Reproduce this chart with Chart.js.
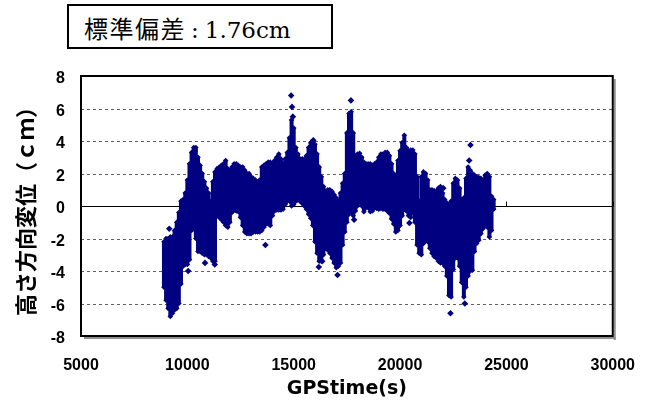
<!DOCTYPE html>
<html>
<head>
<meta charset="utf-8">
<script src="https://cdn.jsdelivr.net/npm/chart.js@4/dist/chart.umd.min.js"></script>
<style>
  html, body { margin: 0; padding: 0; background: #fff; }
  #wrap { position: relative; width: 655px; height: 407px; }
  #sd {
    position: absolute; left: 67px; top: 4px; width: 266px; height: 45px;
    box-sizing: border-box; border: 2px solid #000; background: #fff;
    padding: 4px 0 0 15px; line-height: 36px; white-space: nowrap;
    font-family: "DejaVu Serif", "Noto Sans CJK JP", serif; font-size: 23px; color: #000;
  }
  #sd .jp { font-family: "Noto Sans CJK JP", sans-serif; font-size: 24px; letter-spacing: 1.5px; }
  #sd .colon { padding: 0 6px 0 5px; }
</style>
</head>
<body>
<div id="wrap">
  <canvas id="c" width="655" height="407"></canvas>
  <div id="sd"><span class="jp">標準偏差</span><span class="colon">:</span>1.76cm</div>
</div>
<script>
// GPS time (s) of each sampled column of the height record
const times = [
  8900, 9000, 9100, 9200, 9300, 9400, 9500, 9600, 9700, 9800, 9900,
  10000, 10100, 10200, 10300, 10400, 10500, 10600, 10700, 10800, 10900,
  11000, 11100, 11200, 11300, 11400, 11500, 11600, 11700, 11800, 11900,
  12000, 12100, 12200, 12300, 12400, 12500, 12600, 12700, 12800, 12900,
  13000, 13100, 13200, 13300, 13400, 13500, 13600, 13700, 13800, 13900,
  14000, 14100, 14200, 14300, 14400, 14500, 14600, 14700, 14800, 14900,
  15000, 15100, 15200, 15300, 15400, 15500, 15600, 15700, 15800, 15900,
  16000, 16100, 16200, 16300, 16400, 16500, 16600, 16700, 16800, 16900,
  17000, 17100, 17200, 17300, 17400, 17500, 17600, 17700, 17800, 17900,
  18000, 18100, 18200, 18300, 18400, 18500, 18600, 18700, 18800, 18900,
  19000, 19100, 19200, 19300, 19400, 19500, 19600, 19700, 19800, 19900,
  20000, 20100, 20200, 20300, 20400, 20500, 20600, 20700, 20800, 20900,
  21000, 21100, 21200, 21300, 21400, 21500, 21600, 21700, 21800, 21900,
  22000, 22100, 22200, 22300, 22400, 22500, 22600, 22700, 22800, 22900,
  23000, 23100, 23200, 23300, 23400, 23500, 23600, 23700, 23800, 23900,
  24000, 24100, 24200, 24300, 24400
];

// Highest vertical displacement (cm) in each column
const highs = [
  -2.2, -2.0, -2.0, -1.9, -1.9, -1.5, -1.0, -0.4, 0.3, 0.4, 0.8,
  1.6, 2.6, 3.3, 3.6, 3.6, 3.0, 2.5, 2.0, 1.5, 1.1,
  0.8, 0.3, 1.5, 2.1, 2.3, 2.4, 2.5, 2.6, 2.8, 2.3,
  2.2, 2.4, 2.6, 2.6, 2.5, 2.4, 2.4, 2.2, 2.0, 2.0,
  1.8, 1.7, 1.6, 1.4, 1.6, 2.4, 2.5, 2.6, 2.7, 2.7,
  2.6, 2.8, 3.0, 3.2, 2.9, 2.6, 2.9, 3.3, 4.2, 5.3,
  4.8, 3.6, 3.2, 2.9, 2.9, 2.9, 3.1, 3.6, 3.9, 4.0,
  3.8, 3.2, 2.4, 1.8, 1.2, 0.9, 1.0, 1.0, 0.9, 0.7,
  0.5, 0.3, 0.8, 1.4, 2.0, 4.5, 5.7, 5.8, 4.5, 3.1,
  3.2, 3.25, 3.0, 2.7, 2.6, 2.6, 2.6, 2.5, 2.6, 2.7,
  3.0, 3.2, 3.2, 3.3, 3.3, 3.1, 2.6, 2.0, 1.8, 2.8,
  3.4, 3.9, 4.35, 3.6, 3.4, 3.45, 3.45, 3.2, 1.8, 0.3,
  1.8, 2.1, 2.0, 1.6, 1.0, 1.0, 0.95, 0.9, 1.1, 1.2,
  0.8, 0.4, 0.2, 0.0, 0.3, 1.4, 1.7, 1.6, 1.1, 0.4,
  0.5, 1.7, 2.4, 2.2, 2.0, 1.9, 1.8, 1.75, 1.7, 1.6,
  1.9, 2.0, 1.8, 0.6, 0.4
];

// Lowest vertical displacement (cm) in each column
const lows = [
  -5.0, -5.8, -6.3, -6.8, -6.6, -6.4, -6.3, -6.0, -4.8, -3.7, -3.6,
  -3.6, -3.3, -1.5, -1.4, -2.0, -2.8, -2.8, -2.9, -3.0, -3.0,
  -3.1, -3.2, -3.4, -3.4, -0.6, -0.7, -0.85, -1.0, -1.2, -1.3,
  -1.0, -0.4, -0.25, -0.3, -0.35, -0.7, -1.2, -1.6, -1.7, -1.7,
  -1.7, -1.6, -1.6, -1.6, -1.6, -1.5, -1.3, -1.1, -1.1, -1.2,
  -0.6, -0.3, -0.25, -0.25, -0.25, -0.2, 0.1, 0.3, 0.3, 0.0,
  0.1, 0.3, 0.35, 0.3, 0.15, 0.0, -0.2, -0.5, -0.75, -1.2,
  -2.2, -2.9, -3.4, -3.4, -3.0, -2.6, -2.7, -2.9, -3.2, -3.5,
  -3.8, -3.7, -3.5, -2.4, -1.6, -1.0, -0.5, -0.45, -0.6, -0.3,
  0.0, 0.25, 0.0, -0.35, -0.1, -0.1, -0.35, -0.3, -0.1, -0.15,
  -0.2, -0.15, -0.2, -0.2, -0.3, -0.45, -0.8, -1.1, -1.6, -1.5,
  -1.2, -0.6, -0.2, -0.3, -0.6, -0.7, -0.4, -1.0, -2.4, -2.9,
  -3.0, -2.3, -2.1, -2.2, -2.6, -2.9, -3.1, -3.2, -3.4, -3.5,
  -3.5, -3.7, -4.3, -5.5, -5.6, -3.9, -3.2, -3.2, -3.7, -4.7,
  -5.6, -5.0, -4.3, -4.0, -3.95, -2.8, -2.3, -2.1, -1.7, -1.4,
  -1.1, -1.3, -1.9, -1.5, -0.2
];

// Isolated samples standing apart from the main record
const outlierTimes  = [9150, 10040, 10830, 11290, 13670, 14880, 14920, 14960, 15920, 16180,
                       16340, 17060, 17690, 17840, 20440, 22030, 22370, 23045, 23250, 23310];
const outlierValues = [-1.4, -4.0, -3.5, -3.6, -2.4, 6.8, 6.1, 5.5, 4.05, -3.75,
                       -3.4, -4.25, 6.5, -0.85, -1.05, 1.1, -6.6, -6.0, 2.8, 3.75];

const xTicks = [5000, 10000, 15000, 20000, 25000, 30000];
const yTicks = [-8, -6, -4, -2, 0, 2, 4, 6, 8];

const NAVY = '#000080';
const TICK_FONT = { family: "'Liberation Sans', Arial, sans-serif", size: 16, weight: 'bold' };

const rangeData = times.map((t, i) => ({ x: t, y: [lows[i], highs[i]] }));
const edgePoints = times.flatMap((t, i) => [{ x: t, y: highs[i] }, { x: t, y: lows[i] }]);
const outlierPoints = outlierTimes.map((t, i) => ({ x: t, y: outlierValues[i] }));

// Dashed grid, zero line with its tick marks, and the shadowed plot frame
const framePlugin = {
  id: 'frame',
  beforeDatasetsDraw(chart) {
    const { ctx, chartArea: a, scales: { x, y } } = chart;
    ctx.save();
    ctx.lineWidth = 1;
    ctx.strokeStyle = '#606060';
    ctx.setLineDash([3, 3]);
    yTicks.forEach(v => {
      if (v === 0 || v === yTicks[0] || v === yTicks[yTicks.length - 1]) return;
      const py = Math.round(y.getPixelForValue(v)) + 0.5;
      ctx.beginPath(); ctx.moveTo(a.left, py); ctx.lineTo(a.right, py); ctx.stroke();
    });
    ctx.setLineDash([]);
    ctx.strokeStyle = '#000';
    const zy = Math.round(y.getPixelForValue(0)) + 0.5;
    ctx.beginPath(); ctx.moveTo(a.left, zy); ctx.lineTo(a.right, zy); ctx.stroke();
    xTicks.forEach(v => {
      const px = Math.round(x.getPixelForValue(v)) + 0.5;
      ctx.beginPath(); ctx.moveTo(px, zy); ctx.lineTo(px, zy - 5); ctx.stroke();
    });
    ctx.restore();
  },
  afterDraw(chart) {
    const { ctx, chartArea: a } = chart;
    ctx.save();
    ctx.fillStyle = '#909090';
    ctx.fillRect(a.right + 1, a.top + 3, 2, a.bottom - a.top + 1);
    ctx.fillRect(a.left + 3, a.bottom + 1, a.right - a.left, 2);
    ctx.strokeStyle = '#000';
    ctx.lineWidth = 2;
    ctx.strokeRect(a.left, a.top, a.right - a.left, a.bottom - a.top);
    ctx.restore();
  }
};

new Chart(document.getElementById('c'), {
  type: 'bar',
  data: {
    datasets: [
      { type: 'bar', data: rangeData, backgroundColor: NAVY, borderWidth: 0,
        barThickness: 4, grouped: false, inflateAmount: 0, order: 3 },
      { type: 'scatter', data: edgePoints, pointStyle: 'rectRot', pointRadius: 2.8,
        backgroundColor: NAVY, borderColor: NAVY, borderWidth: 0, order: 2 },
      { type: 'scatter', data: outlierPoints, pointStyle: 'rectRot', pointRadius: 3.3,
        backgroundColor: NAVY, borderColor: NAVY, borderWidth: 0, order: 1 }
    ]
  },
  options: {
    responsive: false,
    animation: false,
    devicePixelRatio: 1,
    layout: { padding: { left: 0, right: 42, top: 76, bottom: 0 } },
    plugins: { legend: { display: false }, tooltip: { enabled: false } },
    scales: {
      x: {
        type: 'linear', min: 5000, max: 30000, offset: false,
        afterBuildTicks: s => { s.ticks = xTicks.map(v => ({ value: v })); },
        afterFit: s => { s.height = 71; },
        grid: { display: false, drawTicks: false },
        border: { display: false },
        ticks: { font: TICK_FONT, color: '#000', padding: 20, maxRotation: 0, autoSkip: false,
                 callback: v => String(v) },
        title: { display: true, text: 'GPStime(s)', color: '#000',
                 font: { family: "'DejaVu Sans', sans-serif", size: 19, weight: 'bold' },
                 padding: { top: 0, bottom: 7 } }
      },
      y: {
        type: 'linear', min: -8, max: 8,
        afterBuildTicks: s => { s.ticks = yTicks.map(v => ({ value: v })); },
        afterFit: s => { s.width = 81; },
        grid: { display: false, drawTicks: false },
        border: { display: false },
        ticks: { font: TICK_FONT, color: '#000', padding: 16, labelOffset: 3,
                 callback: v => String(v) },
        title: { display: true, text: '高さ方向変位（ｃｍ）', color: '#000',
                 font: { family: "'Noto Sans CJK JP', sans-serif", size: 22, weight: 'bold' },
                 padding: { top: 12, bottom: 0 } }
      }
    }
  },
  plugins: [framePlugin]
});
</script>
</body>
</html>
